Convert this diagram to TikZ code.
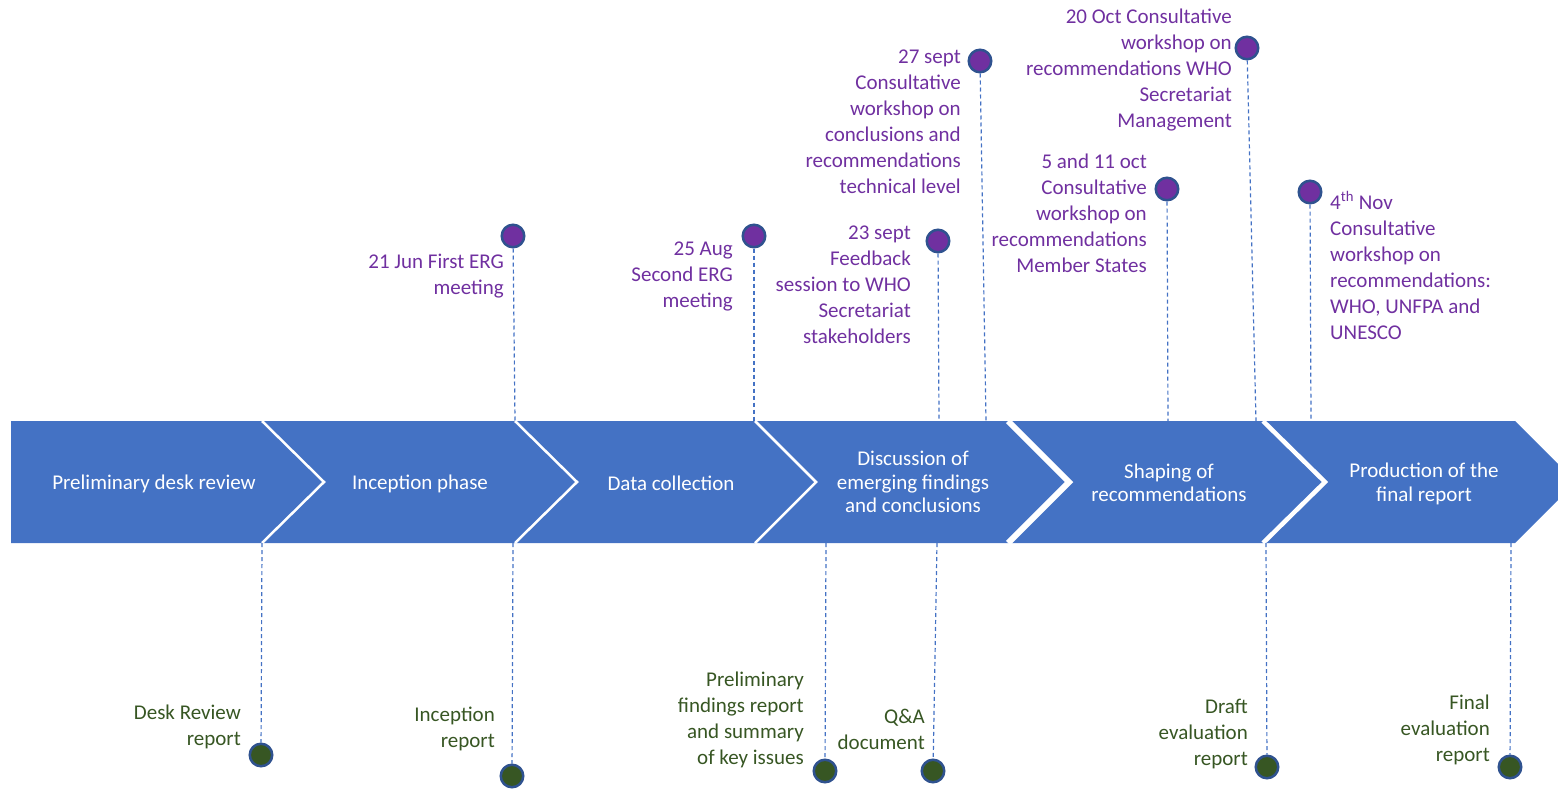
\documentclass[tikz,border=0pt]{standalone}
\usepackage{fontspec}
\setmainfont{Carlito}
\definecolor{band}{HTML}{4472C4}
\definecolor{evpurple}{HTML}{7030A0}
\definecolor{delgreen}{HTML}{375623}
\definecolor{rim}{HTML}{2F528F}
\begin{document}
\begin{tikzpicture}[x=1pt,y=-1pt,
  evdot/.style={circle, fill=evpurple, draw=rim, line width=2.5pt, minimum size=22.5pt, inner sep=0pt},
  deldot/.style={circle, fill=delgreen, draw=rim, line width=2.5pt, minimum size=22.5pt, inner sep=0pt},
  link/.style={draw=band, line width=1.2pt, dash pattern=on 4pt off 3pt},
  evtext/.style={text=evpurple, align=right, anchor=base east, inner sep=0pt, font=\fontsize{21}{26}\selectfont},
  evtextl/.style={text=evpurple, align=left, anchor=base west, inner sep=0pt, font=\fontsize{21}{26}\selectfont},
  deltext/.style={text=delgreen, align=right, anchor=base east, inner sep=0pt, font=\fontsize{21}{26}\selectfont},
  phase/.style={text=white, align=center, inner sep=0pt, font=\fontsize{21}{23.5}\selectfont},
  gap/.style={draw=white, line width=2.5pt, line join=miter}
]
\useasboundingbox (0,0) rectangle (1558,788);
\clip (0,0) rectangle (1558,788);

% chevron band
\fill[band] (11,421) -- (1515,421) -- (1576,482) -- (1515,543) -- (11,543) -- cycle;
\draw[gap] (262,421) -- (324,482) -- (262,543);
\draw[gap] (515,421) -- (577,482) -- (515,543);
\draw[gap] (755,421) -- (816,482) -- (755,543);
\draw[gap, line width=6pt] (1008,421) -- (1069,482) -- (1008,543);
\draw[gap, line width=4.5pt] (1263,421) -- (1325,482) -- (1263,543);

% phase labels
\node[phase] (p1) at (154,484) {Preliminary desk review};
\node[phase] (p2) at (420,484) {Inception phase};
\node[phase] (p3) at (671,483) {Data collection};
\node[phase] (p4) at (913,482) {Discussion of\\emerging findings\\and conclusions};
\node[phase] (p5) at (1169,483) {Shaping of\\recommendations};
\node[phase] (p6) at (1424,484) {Production of the\\final report};

% band anchor points
\coordinate (t1) at (515,421);
\coordinate (t2) at (754,421);
\coordinate (t3) at (939,421);
\coordinate (t4) at (986,421);
\coordinate (t5) at (1168,421);
\coordinate (t6) at (1256,421);
\coordinate (t7) at (1311,421);
\coordinate (b1) at (262,543);
\coordinate (b2) at (513,543);
\coordinate (b3) at (826,543);
\coordinate (b4) at (937,543);
\coordinate (b5) at (1266,543);
\coordinate (b6) at (1511,543);

% event dots
\node[evdot] (e1) at (513,236) {};
\node[evdot] (e2) at (754,236) {};
\node[evdot] (e3) at (938,241) {};
\node[evdot] (e4) at (980,61) {};
\node[evdot] (e5) at (1167,189) {};
\node[evdot] (e6) at (1247,48) {};
\node[evdot] (e7) at (1310,192) {};

% deliverable dots
\node[deldot] (d1) at (261,755) {};
\node[deldot] (d2) at (512,776) {};
\node[deldot] (d3) at (825,771) {};
\node[deldot] (d4) at (933,771) {};
\node[deldot] (d5) at (1267,767) {};
\node[deldot] (d6) at (1510,767) {};

% connectors
\draw[link] (e1) -- (t1);
\draw[link] (e2) -- (t2);
\draw[link] (e3) -- (t3);
\draw[link] (e4) -- (t4);
\draw[link] (e5) -- (t5);
\draw[link] (e6) -- (t6);
\draw[link] (e7) -- (t7);
\draw[link] (b1) -- (d1);
\draw[link] (b2) -- (d2);
\draw[link] (b3) -- (d3);
\draw[link] (b4) -- (d4);
\draw[link] (b5) -- (d5);
\draw[link] (b6) -- (d6);

% event texts (anchored at the baseline of the last line)
\node[evtext] (l1) at (504,294) {21 Jun First ERG\\meeting};
\node[evtext] (l2) at (733,307) {25 Aug\\Second ERG\\meeting};
\node[evtext] (l3) at (911,343) {23 sept\\Feedback\\session to WHO\\Secretariat\\stakeholders};
\node[evtext] (l4) at (961,193) {27 sept\\Consultative\\workshop on\\conclusions and\\recommendations\\technical level};
\node[evtext] (l5) at (1147,272) {5 and 11 oct\\Consultative\\workshop on\\recommendations\\Member States};
\node[evtext] (l6) at (1232,127) {20 Oct Consultative\\workshop on\\recommendations WHO\\Secretariat\\Management};
\node[evtextl] (l7) at (1330,339) {4\textsuperscript{th} Nov\\Consultative\\workshop on\\recommendations:\\WHO, UNFPA and\\UNESCO};

% deliverable texts
\node[deltext] (m1) at (241,745) {Desk Review\\report};
\node[deltext] (m2) at (495,747) {Inception\\report};
\node[deltext] (m3) at (804,764) {Preliminary\\findings report\\and summary\\of key issues};
\node[deltext] (m4) at (925,749) {Q\&A\\document};
\node[deltext] (m5) at (1248,765) {Draft\\evaluation\\report};
\node[deltext] (m6) at (1490,761) {Final\\evaluation\\report};
\end{tikzpicture}
\end{document}
